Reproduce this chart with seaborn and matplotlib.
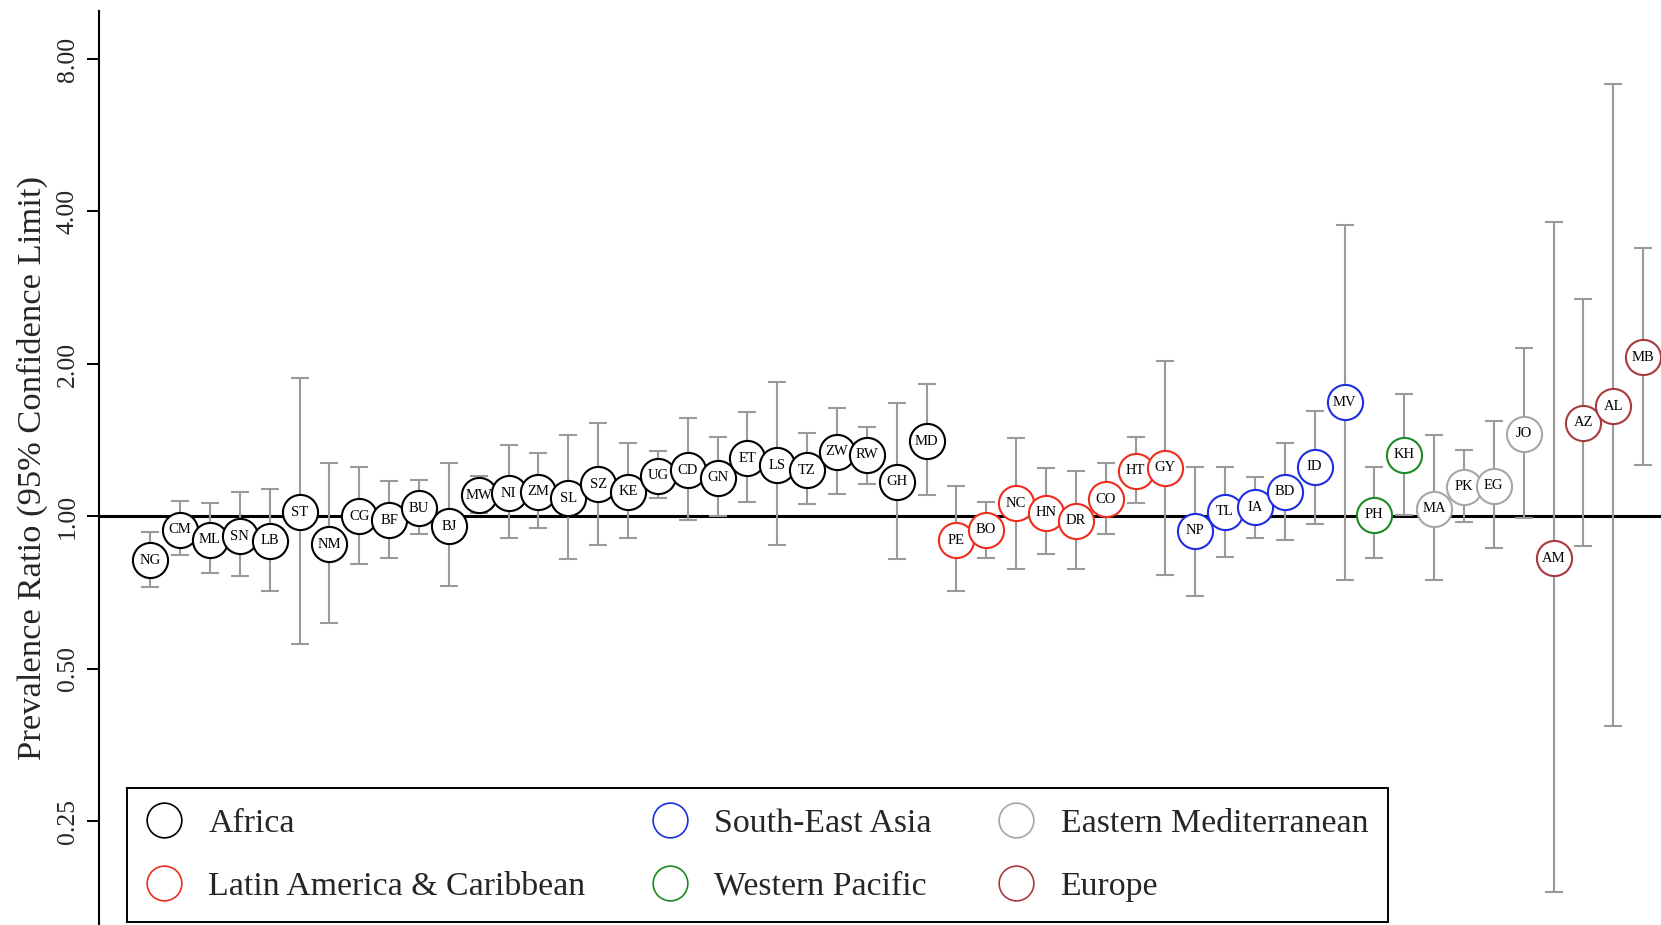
import matplotlib.pyplot as plt
import numpy as np
import pandas as pd
import seaborn as sns
from matplotlib.lines import Line2D
from matplotlib.ticker import FixedLocator, FuncFormatter

# country codes in plotting order, grouped by WHO region
AFRICA = ["NG", "CM", "ML", "SN", "LB", "ST", "NM", "CG", "BF", "BU", "BJ", "MW", "NI", "ZM",
          "SL", "SZ", "KE", "UG", "CD", "GN", "ET", "LS", "TZ", "ZW", "RW", "GH", "MD"]
LATIN = ["PE", "BO", "NC", "HN", "DR", "CO", "HT", "GY"]
SEA = ["NP", "TL", "IA", "BD", "ID", "MV"]
WPAC = ["PH", "KH"]
EMED = ["MA", "PK", "EG", "JO"]
EUROPE = ["AM", "AZ", "AL", "MB"]

# prevalence ratio and 95% limits, same order as the codes above
ratio = [0.82, 0.942, 0.90, 0.914, 0.895, 1.018, 0.882, 1.00, 0.983, 1.037, 0.957, 1.102, 1.110, 1.118,
         1.085, 1.158, 1.118, 1.203, 1.234, 1.192, 1.302, 1.263, 1.234, 1.342, 1.322, 1.170, 1.408,
         0.898, 0.940, 1.061, 1.017, 0.980, 1.081, 1.230, 1.247,
         0.937, 1.021, 1.042, 1.118, 1.253, 1.680,
         1.008, 1.322,
         1.035, 1.144, 1.150, 1.455,
         0.827, 1.532, 1.651, 2.061]
lower = [0.726, 0.839, 0.774, 0.763, 0.711, 0.561, 0.616, 0.805, 0.829, 0.923, 0.728, 1.017, 0.905, 0.947,
         0.825, 0.878, 0.905, 1.085, 0.983, 1.003, 1.066, 0.880, 1.056, 1.107, 1.158, 0.824, 1.102,
         0.713, 0.828, 0.787, 0.841, 0.787, 0.921, 1.061, 0.766,
         0.697, 0.832, 0.905, 0.898, 0.964, 0.749,
         0.827, 1.006,
         0.749, 0.977, 0.866, 0.992,
         0.181, 0.873, 0.386, 1.263]
upper = [0.930, 1.073, 1.064, 1.115, 1.132, 1.874, 1.276, 1.253, 1.174, 1.179, 1.276, 1.203, 1.383, 1.335,
         1.445, 1.531, 1.398, 1.346, 1.561, 1.436, 1.605, 1.839, 1.459, 1.635, 1.503, 1.676, 1.825,
         1.148, 1.069, 1.426, 1.244, 1.230, 1.273, 1.432, 2.029,
         1.253, 1.253, 1.194, 1.394, 1.617, 3.761,
         1.253, 1.741,
         1.451, 1.350, 1.540, 2.146,
         3.805, 2.687, 7.14, 3.382]

REGIONS = ["Africa", "Latin America & Caribbean", "South-East Asia",
           "Western Pacific", "Eastern Mediterranean", "Europe"]
COLORS = {
    "Africa": "#000000",
    "Latin America & Caribbean": "#ee2c1c",
    "South-East Asia": "#1c2ee0",
    "Western Pacific": "#1a8a22",
    "Eastern Mediterranean": "#a6a6a6",
    "Europe": "#a83a3e",
}
Y_TICKS = [0.25, 0.5, 1.0, 2.0, 4.0, 8.0]

groups = [AFRICA, LATIN, SEA, WPAC, EMED, EUROPE]
df = pd.DataFrame({
    "code": sum(groups, []),
    "region": sum([[r] * len(g) for r, g in zip(REGIONS, groups)], []),
    "ratio": ratio,
    "lower": lower,
    "upper": upper,
})
df["pos"] = np.arange(len(df))

sns.set_theme(style="ticks")
plt.rcParams["font.family"] = ["Liberation Serif", "DejaVu Serif"]

fig = plt.figure(figsize=(16.61, 9.25), dpi=100)
ax = fig.add_axes([0.0599, 0.0, 0.9401, 0.9885])
ax.set_yscale("log", base=2)

ax.axhline(1.0, color="black", lw=2.2, zorder=1)
ax.errorbar(df["pos"], df["ratio"],
            yerr=[df["ratio"] - df["lower"], df["upper"] - df["ratio"]],
            fmt="none", ecolor="#9a9a9a", elinewidth=1.5, capsize=6.2, capthick=1.5, zorder=2)

# one circle at a time so that each label sits on its own circle
for i, row in df.iterrows():
    sns.scatterplot(x=[row["pos"]], y=[row["ratio"]], ax=ax, s=640, marker="o",
                    color="white", edgecolor=COLORS[row["region"]], linewidth=1.5,
                    zorder=3 + 2 * i, legend=False)
    ax.text(row["pos"], row["ratio"], row["code"], ha="center", va="center",
            fontsize=10.5, color="black", zorder=4 + 2 * i)

ax.set_xlim(-1.7, 50.6)
ax.set_ylim(0.156, 9.97)
ax.yaxis.set_major_locator(FixedLocator(Y_TICKS))
ax.yaxis.set_minor_locator(FixedLocator([]))
ax.yaxis.set_major_formatter(FuncFormatter(lambda v, _: f"{v:.2f}"))
ax.tick_params(axis="y", labelsize=18.5, length=9, width=1.4, pad=6, color="black")
for lab in ax.get_yticklabels():
    lab.set_rotation(90)
    lab.set_va("center")
ax.set_xticks([])
ax.set_xlabel("")
ax.set_ylabel("Prevalence Ratio (95% Confidence Limit)", fontsize=24.8, labelpad=6)
sns.despine(ax=ax, top=True, right=True, bottom=True)
ax.spines["left"].set_linewidth(1.5)
ax.spines["left"].set_color("black")

handles = [Line2D([], [], linestyle="none", marker="o", markersize=25, markerfacecolor="white",
                  markeredgecolor=COLORS[r], markeredgewidth=1.2, label=r) for r in REGIONS]
leg = fig.legend(handles=handles, ncol=3, loc="lower left", bbox_to_anchor=(127 / 1661, 3 / 925),
                 fontsize=24.4, frameon=True, fancybox=False, borderaxespad=0, borderpad=0.6,
                 handlelength=1.0, handletextpad=0.8, columnspacing=2.0, labelspacing=0.95)
leg.get_frame().set_edgecolor("black")
leg.get_frame().set_linewidth(1.4)
leg.get_frame().set_alpha(1)

fig.savefig("out.png", dpi=100)
plt.close(fig)
